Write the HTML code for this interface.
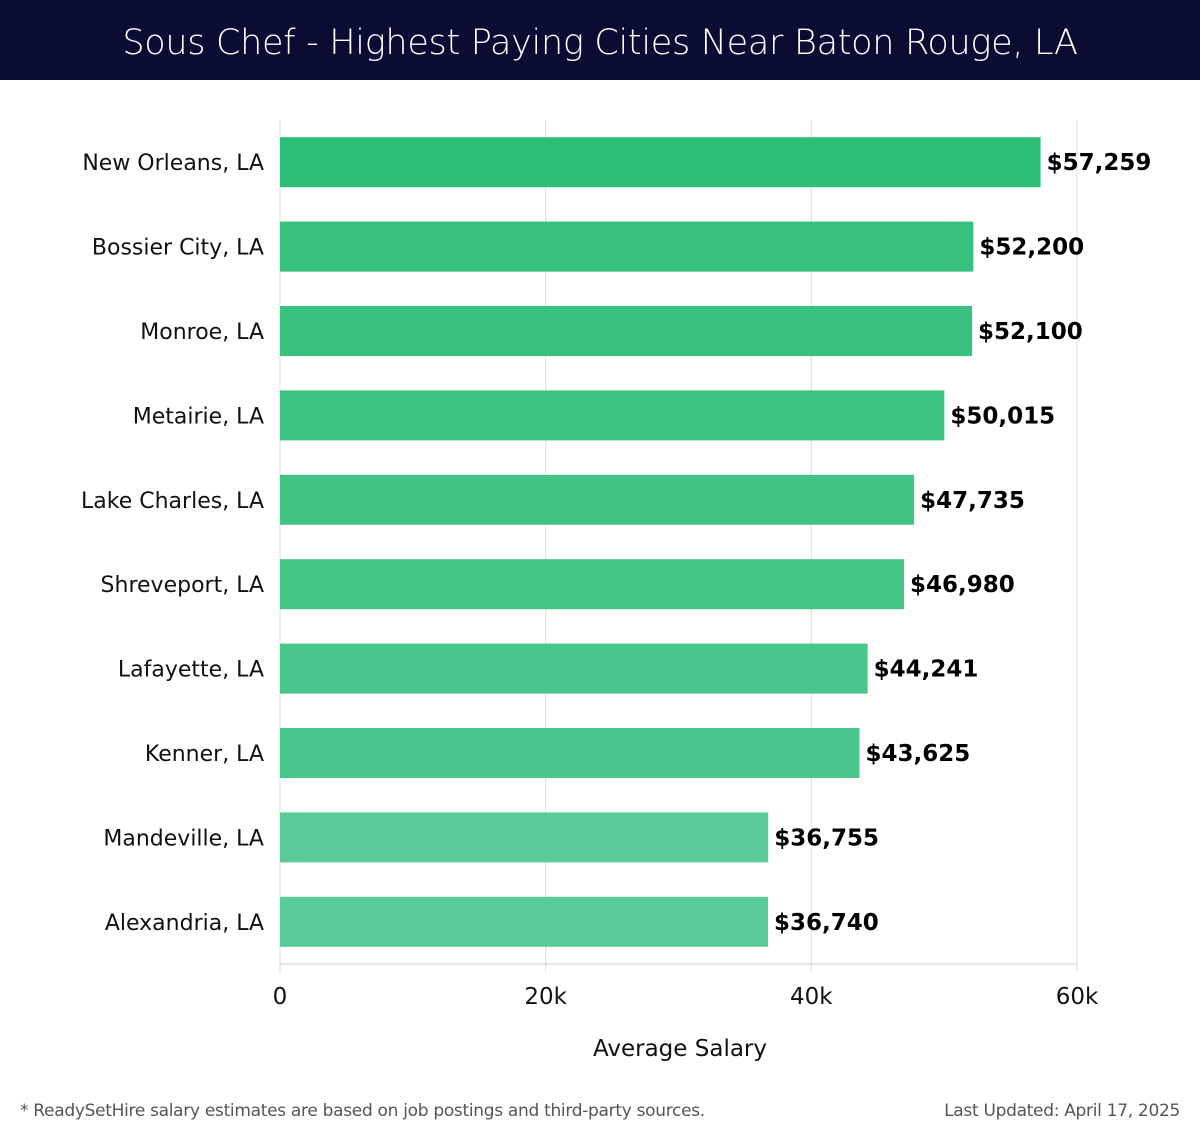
<!DOCTYPE html>
<html><head><meta charset="utf-8"><style>
body{margin:0;width:1200px;height:1140px;background:#fff;font-family:"DejaVu Sans","Liberation Sans",sans-serif;overflow:hidden}
#hdr{position:absolute;left:0;top:0;width:1200px;height:80px;background:#0b0c33;color:#fff;font-size:35px;text-align:center;line-height:86px;font-family:"DejaVu Sans","Liberation Sans",sans-serif;font-weight:300;letter-spacing:-0.3px}
.foot{position:absolute;top:1101px;font-size:17px;color:#555;letter-spacing:-0.3px}
</style></head><body>
<div id="hdr">Sous Chef - Highest Paying Cities Near Baton Rouge, LA</div>
<svg id="chart" width="1200" height="1140" style="position:absolute;left:0;top:0"></svg>
<div class="foot" style="left:20px">* ReadySetHire salary estimates are based on job postings and third-party sources.</div>
<div class="foot" style="right:20px">Last Updated: April 17, 2025</div>
<script>
const cities=["New Orleans, LA","Bossier City, LA","Monroe, LA","Metairie, LA","Lake Charles, LA","Shreveport, LA","Lafayette, LA","Kenner, LA","Mandeville, LA","Alexandria, LA"];
const salaries=[57259,52200,52100,50015,47735,46980,44241,43625,36755,36740];
const ticks=[0,20000,40000,60000];
const tickLabels=["0","20k","40k","60k"];
const svgEl=document.getElementById('chart');
const NS="http://www.w3.org/2000/svg";
const x0=280,x1=1077,xmax=60000,plotTop=120,plotBottom=964;
const xs=v=>x0+(v/xmax)*(x1-x0);
const step=(plotBottom-plotTop)/cities.length;
const yc=i=>plotTop+step*(i+0.5);
function mk(t,a){const e=document.createElementNS(NS,t);for(const k in a)e.setAttribute(k,a[k]);svgEl.appendChild(e);return e;}
ticks.forEach((t,i)=>{
  const g=mk('line',{x1:xs(t),x2:xs(t),y1:plotTop,y2:plotBottom+8,stroke:'#dddddd','stroke-width':1});
  
  
  const l=mk('text',{x:xs(t),y:1004,'text-anchor':'middle','font-size':23,fill:'#111'});
  l.textContent=tickLabels[i];
  
  
});
const ax=mk('line',{x1:x0,x2:x1,y1:plotBottom,y2:plotBottom,stroke:'#cccccc','stroke-width':1});


const mn=Math.min(...salaries),mx=Math.max(...salaries);
cities.forEach((c,i)=>{
  const v=salaries[i];
  const f=(mx-v)/(mx-mn||1);
  const r=Math.round(45+43*f),g=Math.round(190+13*f),b=Math.round(118+34*f);
  const bar=mk('rect',{x:x0,y:yc(i)-25,width:xs(v)-x0,height:50,fill:`rgb(${r},${g},${b})`});
  
  
  const lab=mk('text',{x:264,y:yc(i)+8,'text-anchor':'end','font-size':22,fill:'#111'});
  lab.textContent=c;
  
  
  const val=mk('text',{x:xs(v)+6,y:yc(i)+8,'font-size':23,'font-weight':'bold',fill:'#000'});
  val.textContent='$'+v.toLocaleString('en-US');
  
  
});
const at=mk('text',{x:680,y:1056,'text-anchor':'middle','font-size':23,fill:'#111'});
at.textContent='Average Salary';


</script>
</body></html>
